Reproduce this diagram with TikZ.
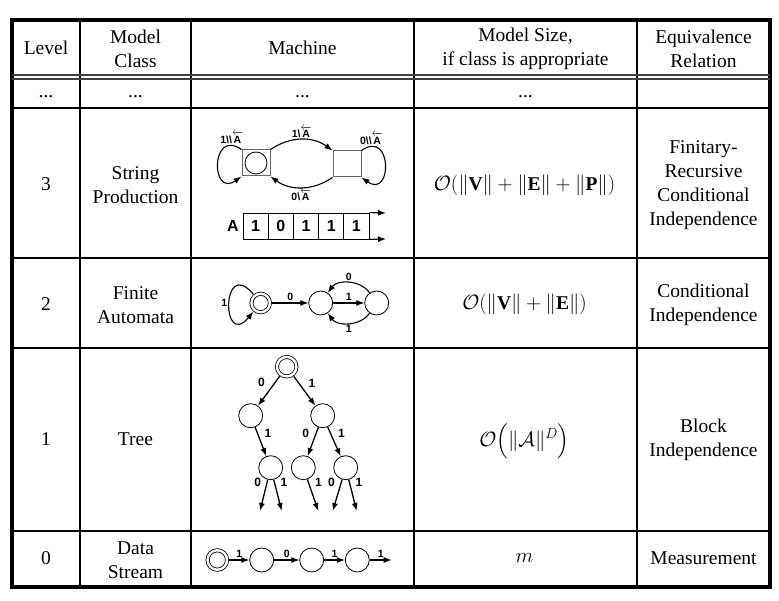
\documentclass[tikz,border=0pt]{standalone}
\usepackage{amsmath}
\usepackage{amssymb}
\usepackage{fontspec}
\setmainfont{Liberation Serif}
\newfontfamily\labfont{Liberation Sans}
\usetikzlibrary{automata,shapes,arrows.meta}
\tikzset{>={Latex[length=8pt,width=6pt]},
  every state/.style={draw,line width=0.8pt,minimum size=24pt,inner sep=0pt},
  accepting/.style={double,double distance=2.4pt,outer sep=2.2pt},
  txt/.style={align=center,font=\fontsize{19.5}{24}\selectfont},
  mth/.style={font=\fontsize{19.5}{24}\selectfont},
  lbl/.style={font=\labfont\bfseries\fontsize{10.5}{12}\selectfont,inner sep=1.5pt},
  tapecell/.style={draw,line width=0.8pt,minimum width=25.2pt,minimum height=26pt,inner sep=0pt,
    font=\labfont\bfseries\fontsize{16}{18}\selectfont},
  sq/.style={draw=black!60,line width=1pt,minimum width=28pt,minimum height=26pt,inner sep=0pt},
  tabline/.style={line width=2pt},
  tabframe/.style={line width=3.5pt}}
\newcommand{\arrA}{$\overleftarrow{\text{A}}$}

\begin{document}
\begin{tikzpicture}[x=1pt,y=-1pt]
    \useasboundingbox (0,0) rectangle (779,601);
    % table rules
    \draw[tabframe] (12,20) rectangle (770,587);
    \foreach \x in {80,191,414,637} \draw[tabline] (\x,20) -- (\x,587);
    \foreach \y in {108,258,348,531} \draw[tabline] (12,\y) -- (770,\y);
    \draw[line width=1.2pt,black!75] (12,75) -- (770,75) (12,79) -- (770,79);

    % header
    \node[txt] (hlev) at (46,48) {Level};
    \node[txt] (hcls) at (135.5,49) {Model\\Class};
    \node[txt] (hmach) at (302.5,48) {Machine};
    \node[txt] (hsize) at (525.5,49) {Model Size,\\if class is appropriate};
    \node[txt] (hrel) at (703.5,49) {Equivalence\\Relation};
    \foreach \x/\n in {46/1,135.5/2,302.5/3,525.5/4}
        \node[txt] (dots\n) at (\x,97) {...};

    % level 3
    \node[txt] (lev3) at (46,184) {3};
    \node[txt] (cls3) at (135.5,185) {String\\Production};
    \node[mth] (size3) at (524.5,185) {$\mathcal{O}(\|\mathbf{V}\|+\|\mathbf{E}\|+\|\mathbf{P}\|)$};
    \node[txt] (rel3) at (703.5,185) {Finitary-\\Recursive\\Conditional\\Independence};

    % level 2
    \node[txt] (lev2) at (46,304) {2};
    \node[txt] (cls2) at (135.5,305) {Finite\\Automata};
    \node[mth] (size2) at (524.5,304) {$\mathcal{O}(\|\mathbf{V}\|+\|\mathbf{E}\|)$};
    \node[txt] (rel2) at (703.5,305) {Conditional\\Independence};

    % level 1
    \node[txt] (lev1) at (46,439) {1};
    \node[txt] (cls1) at (135.5,439) {Tree};
    \node[mth] (size1) at (524.5,441) {$\mathcal{O}\Bigl(\|\mathcal{A}\|^{D}\Bigr)$};
    \node[txt] (rel1) at (703.5,440) {Block\\Independence};

    % level 0
    \node[txt] (lev0) at (46,558) {0};
    \node[txt] (cls0) at (135.5,560) {Data\\Stream};
    \node[mth] (size0) at (524.5,558) {$m$};
    \node[txt] (rel0) at (703.5,558) {Measurement};

    % string production machine
    \begin{scope}[->,line width=1.1pt]
    \node[sq] (sq1) at (256,163) {};
    \node[circle,draw,line width=0.8pt,minimum size=22pt] (c1) at (sq1) {};
    \node[sq] (sq2) at (347,164) {};
    \path
    (sq1.north east) edge [bend left=35] node[lbl,above] {1\textbackslash\arrA} (sq2.north west)
    (sq2.south west) edge [bend left=35] node[lbl,below] {0\textbackslash\arrA} (sq1.south east)
    (sq1.north west) edge [out=145,in=215,looseness=3.6] node[lbl,above,pos=0.12] {1\textbackslash\textbackslash\arrA} (sq1.south west)
    (sq2.north east) edge [out=35,in=-35,looseness=3.6] node[lbl,above,pos=0.12] {0\textbackslash\textbackslash\arrA} (sq2.south east)
    ;
    \node[lbl,font=\labfont\bfseries\fontsize{16}{18}\selectfont] (tA) at (233,226) {A};
    \foreach \d [count=\i] in {1,0,1,1,1}
        \node[tapecell] (t\i) at ({230.4+25.2*\i},226) {\d};
    \coordinate (tt) at (386,213);
    \coordinate (tb) at (386,239);
    \draw (t5.north east) -- (tt);
    \draw (t5.south east) -- (tb);
    \end{scope}

    % finite automaton
    \begin{scope}[->,line width=1.1pt]
    \node[state,accepting,minimum size=18.5pt] (f0) at (260.7,303) {};
    \node[state] (f1) at (320.7,303) {};
    \node[state] (f2) at (376.7,303) {};
    \path
    (f0) edge [out=130,in=230,min distance=50pt] node[lbl,left] {1} (f0)
    (f0) edge node[lbl,above] {0} (f1)
    (f1) edge node[lbl,above] {1} (f2)
    (f2) edge [bend right=55] node[lbl,above] {0} (f1)
    (f2) edge [bend left=55] node[lbl,below] {1} (f1)
    ;
    \end{scope}

    % tree
    \begin{scope}[->,line width=1.3pt,auto,every node/.append style={font=\labfont\bfseries\fontsize{12}{14}\selectfont}]
    \node[state,accepting,minimum size=19.5pt] (r) at (286.7,366.7) {};
    \node[state] (a) at (250.7,415.7) {};
    \node[state] (b) at (322.7,415.7) {};
    \node[state] (c) at (270.7,467.7) {};
    \node[state] (d) at (303.3,467.7) {};
    \node[state] (e) at (345.7,467.7) {};
    \coordinate (c0) at (260,511);
    \coordinate (c1) at (281.7,511);
    \coordinate (d1) at (318.3,511);
    \coordinate (e0) at (332.7,511);
    \coordinate (e1) at (356.7,511);
    \path
    (r) edge node[swap] {0} (a)
    (r) edge node {1} (b)
    (a) edge node {1} (c)
    (b) edge node[swap] {0} (d)
    (b) edge node {1} (e)
    (c) edge node[swap,pos=0.35] {0} (c0)
    (c) edge node[pos=0.35] {1} (c1)
    (d) edge node[pos=0.35] {1} (d1)
    (e) edge node[swap,pos=0.35] {0} (e0)
    (e) edge node[pos=0.35] {1} (e1)
    ;
    \end{scope}

    % data stream
    \begin{scope}[->,line width=1.1pt]
    \node[state,accepting,minimum size=19.5pt] (s0) at (217.3,560) {};
    \node[state] (s1) at (261.7,560) {};
    \node[state] (s2) at (311.7,560) {};
    \node[state] (s3) at (357.3,560) {};
    \coordinate (s4) at (391.7,560);
    \path
    (s0) edge node[lbl,above] {1} (s1)
    (s1) edge node[lbl,above] {0} (s2)
    (s2) edge node[lbl,above] {1} (s3)
    (s3) edge node[lbl,above] {1} (s4)
    ;
    \end{scope}
\end{tikzpicture}
\end{document}
